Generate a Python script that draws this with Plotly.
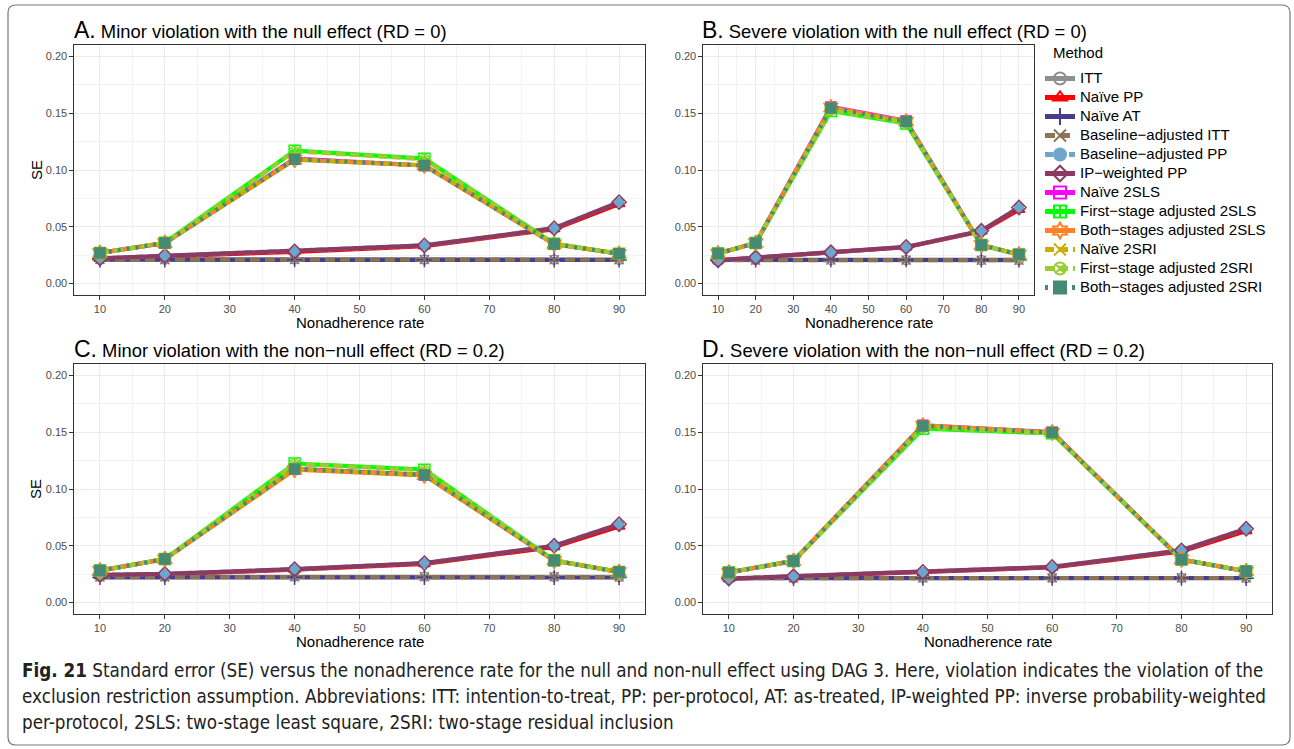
import plotly.graph_objects as go

W, H = 1294, 749

# ---------------- data ----------------
nonadherence = [10, 20, 40, 60, 80, 90]
x_ticks = [10, 20, 30, 40, 50, 60, 70, 80, 90]
y_ticks = [0.00, 0.05, 0.10, 0.15, 0.20]

methods = ["ITT", "Naïve PP", "Naïve AT", "Baseline\u2212adjusted ITT", "Baseline\u2212adjusted PP",
           "IP\u2212weighted PP", "Naïve 2SLS", "First\u2212stage adjusted 2SLS",
           "Both\u2212stages adjusted 2SLS", "Naïve 2SRI", "First\u2212stage adjusted 2SRI",
           "Both\u2212stages adjusted 2SRI"]

panel_titles = ["Minor violation with the null effect (RD = 0)",
                "Severe violation with the null effect (RD = 0)",
                "Minor violation with the non\u2212null effect (RD = 0.2)",
                "Severe violation with the non\u2212null effect (RD = 0.2)"]
panel_letters = ["A.", "B.", "C.", "D."]

# Panel A: minor violation, null effect
A_itt = [0.0215, 0.0213, 0.0215, 0.0213, 0.0212, 0.0210]
A_naive_at = [0.0210, 0.0210, 0.0211, 0.0211, 0.0210, 0.0209]
A_base_itt = [0.0212, 0.0211, 0.0213, 0.0212, 0.0211, 0.0210]
A_naive_pp = [0.0220, 0.0240, 0.0280, 0.0330, 0.0480, 0.0700]
A_base_pp = [0.0222, 0.0245, 0.0284, 0.0336, 0.0488, 0.0717]
A_ipw_pp = [0.0222, 0.0245, 0.0284, 0.0336, 0.0488, 0.0717]
A_naive_2sls = [0.0270, 0.0357, 0.1100, 0.1040, 0.0348, 0.0263]
A_fs_2sls = [0.0270, 0.0360, 0.1170, 0.1100, 0.0352, 0.0263]
A_both_2sls = [0.0270, 0.0357, 0.1090, 0.1040, 0.0348, 0.0263]
A_naive_2sri = [0.0270, 0.0357, 0.1095, 0.1040, 0.0348, 0.0263]
A_fs_2sri = [0.0270, 0.0360, 0.1165, 0.1095, 0.0352, 0.0263]
A_both_2sri = [0.0270, 0.0357, 0.1095, 0.1040, 0.0348, 0.0263]

# Panel B: severe violation, null effect
B_itt = [0.0208, 0.0208, 0.0209, 0.0208, 0.0207, 0.0207]
B_naive_at = [0.0210, 0.0210, 0.0211, 0.0211, 0.0210, 0.0209]
B_base_itt = [0.0207, 0.0207, 0.0208, 0.0207, 0.0206, 0.0206]
B_naive_pp = [0.0205, 0.0230, 0.0275, 0.0320, 0.0460, 0.0650]
B_base_pp = [0.0206, 0.0230, 0.0276, 0.0323, 0.0465, 0.0670]
B_ipw_pp = [0.0206, 0.0230, 0.0276, 0.0323, 0.0465, 0.0670]
B_naive_2sls = [0.0265, 0.0357, 0.1555, 0.1432, 0.0340, 0.0256]
B_fs_2sls = [0.0265, 0.0357, 0.1520, 0.1410, 0.0340, 0.0256]
B_both_2sls = [0.0265, 0.0357, 0.1550, 0.1427, 0.0340, 0.0256]
B_naive_2sri = [0.0265, 0.0357, 0.1545, 0.1427, 0.0340, 0.0256]
B_fs_2sri = [0.0265, 0.0357, 0.1525, 0.1415, 0.0340, 0.0256]
B_both_2sri = [0.0265, 0.0357, 0.1545, 0.1427, 0.0340, 0.0256]

# Panel C: minor violation, non-null effect
C_itt = [0.0228, 0.0228, 0.0229, 0.0229, 0.0228, 0.0226]
C_naive_at = [0.0222, 0.0222, 0.0223, 0.0223, 0.0222, 0.0221]
C_base_itt = [0.0226, 0.0226, 0.0227, 0.0228, 0.0227, 0.0225]
C_naive_pp = [0.0235, 0.0250, 0.0290, 0.0340, 0.0490, 0.0670]
C_base_pp = [0.0245, 0.0253, 0.0295, 0.0348, 0.0500, 0.0690]
C_ipw_pp = [0.0245, 0.0253, 0.0295, 0.0348, 0.0500, 0.0690]
C_naive_2sls = [0.0282, 0.0383, 0.1177, 0.1124, 0.0370, 0.0270]
C_fs_2sls = [0.0282, 0.0383, 0.1224, 0.1170, 0.0372, 0.0270]
C_both_2sls = [0.0282, 0.0383, 0.1170, 0.1120, 0.0370, 0.0270]
C_naive_2sri = [0.0282, 0.0383, 0.1177, 0.1124, 0.0370, 0.0270]
C_fs_2sri = [0.0282, 0.0383, 0.1220, 0.1165, 0.0372, 0.0270]
C_both_2sri = [0.0282, 0.0383, 0.1177, 0.1124, 0.0370, 0.0270]

# Panel D: severe violation, non-null effect
D_itt = [0.0217, 0.0217, 0.0218, 0.0218, 0.0218, 0.0217]
D_naive_at = [0.0215, 0.0215, 0.0216, 0.0216, 0.0216, 0.0215]
D_base_itt = [0.0216, 0.0216, 0.0217, 0.0218, 0.0218, 0.0217]
D_naive_pp = [0.0210, 0.0230, 0.0262, 0.0310, 0.0450, 0.0630]
D_base_pp = [0.0212, 0.0232, 0.0270, 0.0314, 0.0460, 0.0650]
D_ipw_pp = [0.0212, 0.0232, 0.0270, 0.0314, 0.0460, 0.0650]
D_naive_2sls = [0.0265, 0.0367, 0.1560, 0.1500, 0.0380, 0.0276]
D_fs_2sls = [0.0265, 0.0367, 0.1530, 0.1490, 0.0380, 0.0276]
D_both_2sls = [0.0265, 0.0367, 0.1559, 0.1497, 0.0380, 0.0276]
D_naive_2sri = [0.0265, 0.0367, 0.1555, 0.1497, 0.0380, 0.0276]
D_fs_2sri = [0.0265, 0.0367, 0.1540, 0.1492, 0.0380, 0.0276]
D_both_2sri = [0.0265, 0.0367, 0.1555, 0.1497, 0.0380, 0.0276]

panel_series = [
    [A_itt, A_naive_pp, A_naive_at, A_base_itt, A_base_pp, A_ipw_pp,
     A_naive_2sls, A_fs_2sls, A_both_2sls, A_naive_2sri, A_fs_2sri, A_both_2sri],
    [B_itt, B_naive_pp, B_naive_at, B_base_itt, B_base_pp, B_ipw_pp,
     B_naive_2sls, B_fs_2sls, B_both_2sls, B_naive_2sri, B_fs_2sri, B_both_2sri],
    [C_itt, C_naive_pp, C_naive_at, C_base_itt, C_base_pp, C_ipw_pp,
     C_naive_2sls, C_fs_2sls, C_both_2sls, C_naive_2sri, C_fs_2sri, C_both_2sri],
    [D_itt, D_naive_pp, D_naive_at, D_base_itt, D_base_pp, D_ipw_pp,
     D_naive_2sls, D_fs_2sls, D_both_2sls, D_naive_2sri, D_fs_2sri, D_both_2sri],
]

caption_lines = [
    "<b>Fig. 21</b> Standard error (SE) versus the nonadherence rate for the null and non-null effect using DAG 3. Here, violation indicates the violation of the",
    "exclusion restriction assumption. Abbreviations: ITT: intention-to-treat, PP: per-protocol, AT: as-treated, IP-weighted PP: inverse probability-weighted",
    "per-protocol, 2SLS: two-stage least square, 2SRI: two-stage residual inclusion",
]

# ---------------- styles ----------------
colors = ["#8E8E8E", "#FF0000", "#483D8B", "#8B7355", "#6CA6CD", "#8B3A62",
          "#FF00FF", "#00FF00", "#FF7F24", "#CDAD00", "#9ACD32", "#458B74"]
dashes = ["solid", "solid", "solid", "10px,5px", "8px,4px", "solid",
          "solid", "solid", "solid", "9px,5px", "9px,5px", "3px,6px"]
symbols = ["circle-open", "triangle-up-open", "cross-thin-open", "x-thin-open", "circle",
           "diamond-open", "square-open", "square-cross-open", "hexagram-open",
           "x-thin-open", "circle-x-open", "square"]
msizes = [9, 10, 11, 9, 9, 11, 10, 11, 12, 9, 10, 10]
LW = 4.2

FONT = "Liberation Sans, Arial, Helvetica, sans-serif"


def px(x):
    return x / W


def py(y):
    return 1 - y / H


# panel pixel boxes: (left, right, top, bottom)
boxes = [(74, 645, 45, 295), (703, 1034, 45, 295),
         (74, 645, 364, 614), (703, 1272, 364, 614)]

fig = go.Figure()
layout = dict(
    width=W, height=H, margin=dict(l=0, r=0, t=0, b=0),
    paper_bgcolor="white", plot_bgcolor="white",
    font=dict(family=FONT, color="black"),
    showlegend=True,
)

for i, (l, r, t, b) in enumerate(boxes):
    sfx = "" if i == 0 else str(i + 1)
    layout["xaxis" + sfx] = dict(
        domain=[px(l), px(r)], anchor="y" + sfx, range=[6, 94],
        tickmode="array", tickvals=x_ticks, ticktext=[str(v) for v in x_ticks],
        ticks="outside", ticklen=3.5, tickcolor="#333333", tickwidth=1,
        tickfont=dict(size=11, color="#4D4D4D", family=FONT),
        showline=True, mirror=True, linecolor="#333333", linewidth=1.2,
        showgrid=True, gridcolor="#EBEBEB", gridwidth=1.1,
        minor=dict(showgrid=True, gridcolor="#F2F2F2", gridwidth=0.7,
                   tickmode="array", tickvals=[15, 25, 35, 45, 55, 65, 75, 85]),
        zeroline=False,
    )
    layout["yaxis" + sfx] = dict(
        domain=[py(b), py(t)], anchor="x" + sfx, range=[-0.01, 0.21],
        tickmode="array", tickvals=y_ticks, ticktext=["%.2f" % v for v in y_ticks],
        ticks="outside", ticklen=3.5, tickcolor="#333333", tickwidth=1,
        tickfont=dict(size=11, color="#4D4D4D", family=FONT),
        showline=True, mirror=True, linecolor="#333333", linewidth=1.2,
        showgrid=True, gridcolor="#EBEBEB", gridwidth=1.1,
        minor=dict(showgrid=True, gridcolor="#F2F2F2", gridwidth=0.7,
                   tickmode="array", tickvals=[0.025, 0.075, 0.125, 0.175]),
        zeroline=False,
    )

# lines first (like ggplot's geom_line layer), then points
for i in range(4):
    xa = "x" if i == 0 else "x" + str(i + 1)
    ya = "y" if i == 0 else "y" + str(i + 1)
    for k, m in enumerate(methods):
        fig.add_trace(go.Scatter(
            x=nonadherence, y=panel_series[i][k], xaxis=xa, yaxis=ya, mode="lines",
            line=dict(color=colors[k], width=LW, dash=dashes[k]),
            showlegend=False, legendgroup=m, hoverinfo="skip"))
for i in range(4):
    xa = "x" if i == 0 else "x" + str(i + 1)
    ya = "y" if i == 0 else "y" + str(i + 1)
    for k, m in enumerate(methods):
        fig.add_trace(go.Scatter(
            x=nonadherence, y=panel_series[i][k], xaxis=xa, yaxis=ya, mode="markers",
            marker=dict(symbol=symbols[k], size=msizes[k], color=colors[k],
                        line=dict(color=colors[k], width=1.5)),
            showlegend=False, legendgroup=m, name=m))

# legend entries (line + marker keys)
for k, m in enumerate(methods):
    fig.add_trace(go.Scatter(
        x=[None], y=[None], mode="lines+markers",
        name="<span style='font-size:15px'>%s</span>" % m, legendgroup=m,
        line=dict(color=colors[k], width=3.5, dash=dashes[k]),
        marker=dict(symbol=symbols[k], size=msizes[k] - 1, color=colors[k],
                    line=dict(color=colors[k], width=1.5))))

layout["legend"] = dict(
    x=px(1040), y=py(64), xanchor="left", yanchor="top",
    font=dict(size=11.9, family=FONT, color="black"),
    itemwidth=30, tracegroupgap=0, bgcolor="rgba(0,0,0,0)",
    itemsizing="constant",
)

annotations = [dict(
    x=px(1051), y=py(53), xref="paper", yref="paper", xanchor="left", yanchor="middle",
    showarrow=False, text="Method", font=dict(size=15, family=FONT, color="black"))]

title_pos = [(72, 30), (700, 30), (72, 349), (700, 349)]
for i, (tx, ty) in enumerate(title_pos):
    annotations.append(dict(
        x=px(tx), y=py(ty), xref="paper", yref="paper", xanchor="left", yanchor="middle",
        showarrow=False,
        text="<span style='font-size:23px'>%s</span> %s" % (panel_letters[i], panel_titles[i]),
        font=dict(size=18.4, family=FONT, color="black")))

for i, (l, r, t, b) in enumerate(boxes):
    annotations.append(dict(
        x=px((l + r) / 2), y=py(b + 27), xref="paper", yref="paper",
        xanchor="center", yanchor="middle", showarrow=False,
        text="Nonadherence rate", font=dict(size=15, family=FONT, color="black")))
for ty in (170, 489):
    annotations.append(dict(
        x=px(36), y=py(ty), xref="paper", yref="paper",
        xanchor="center", yanchor="middle", showarrow=False, textangle=-90,
        text="SE", font=dict(size=15, family=FONT, color="black")))

CAP_FONT = "Liberation Sans Narrow, DejaVu Sans Condensed, Roboto, sans-serif"
for j, line in enumerate(caption_lines):
    annotations.append(dict(
        x=px(20), y=py(670 + 26 * j), xref="paper", yref="paper",
        xanchor="left", yanchor="middle", showarrow=False, align="left",
        text=line, font=dict(size=18.7, family=CAP_FONT, color="#222222")))

layout["annotations"] = annotations

# outer rounded frame
x0, x1, y0, y1, rr = 8, 1290, 5, 745, 8
path = ("M {a},{b} L {c},{b} Q {x1},{b} {x1},{d} L {x1},{e} Q {x1},{f} {c},{f} "
        "L {a},{f} Q {x0},{f} {x0},{e} L {x0},{d} Q {x0},{b} {a},{b} Z").format(
    a=px(x0 + rr), b=py(y0), c=px(x1 - rr), d=py(y0 + rr), e=py(y1 - rr), f=py(y1),
    x0=px(x0), x1=px(x1))
layout["shapes"] = [dict(type="path", xref="paper", yref="paper", path=path,
                         line=dict(color="#777777", width=1.2), layer="below")]

fig.update_layout(**layout)
fig.write_html("out.html")
